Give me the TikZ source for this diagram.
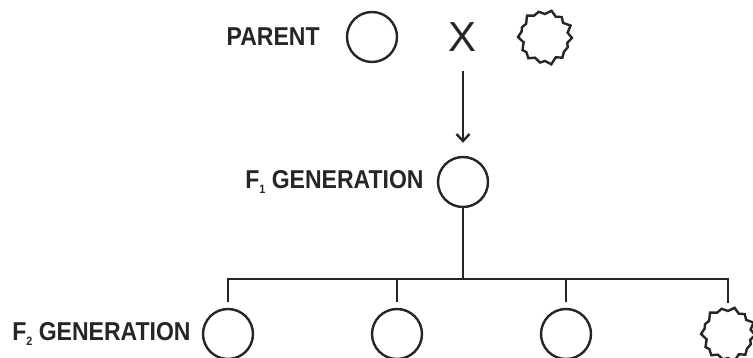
\documentclass[tikz,border=0pt]{standalone}
\usepackage{fontspec}
\setmainfont{Liberation Sans}
\usetikzlibrary{positioning, arrows.meta}
\definecolor{ink}{HTML}{262626}
\tikzstyle{seed} = [circle, minimum size=50pt, inner sep=0pt, draw=ink, line width=2.4pt]
\tikzstyle{wrinkle} = [circle, minimum size=50pt, inner sep=0pt]
\tikzstyle{gen} = [text=ink, font=\fontsize{23.5}{24}\selectfont\bfseries, inner sep=0pt]
\tikzstyle{cross} = [text=ink, font=\fontsize{42}{42}\selectfont, inner sep=0pt]
\tikzstyle{line} = [draw=ink, line width=2.4pt]
\tikzstyle{arrow} = [line, -{Straight Barb[length=7pt,width=13pt]}]
\newcommand{\wrinkled}[1]{\draw [line, line join=miter, shift={(#1.center)}]
  (2:27) -- (15:23) -- (24:25) -- (38:24) -- (50:27) -- (62:23) -- (77:28) -- (90:24)
  -- (101:26) -- (116:23) -- (128:27) -- (141:24) -- (150:26) -- (166:22) -- (180:27)
  -- (193:24) -- (203:25) -- (215:23) -- (230:28) -- (243:24) -- (256:26) -- (270:23)
  -- (284:27) -- (298:23) -- (310:26) -- (322:23) -- (336:28) -- (349:23) -- cycle;}
\newcommand{\sub}[1]{\raisebox{-4pt}{\fontsize{11}{11}\selectfont #1}}
\newcommand{\tall}[1]{\scalebox{0.98}[1.1]{#1}}

\begin{document}
\begin{tikzpicture}[x=1pt, y=-1pt]
		\useasboundingbox (0,0) rectangle (753,358);
		% Parents
		\node (pA) [seed] at (372,37) {};
		\node (cross) [cross, right of=pA, node distance=91pt] {X};
		\node (pB) [wrinkle, right of=cross, node distance=82pt] {};
		\node (parent) [gen, left=26pt of pA] {\tall{PARENT}};
		% First generation
		\node (f1) [seed, below of=cross, node distance=145pt] {};
		\node (f1lbl) [gen, left=13pt of f1] {\tall{F\sub{1} GENERATION}};
		% Second generation
		\node (f2a) [seed] at (228,334) {};
		\node (f2b) [seed, right of=f2a, node distance=169pt] {};
		\node (f2c) [seed, right of=f2b, node distance=169pt] {};
		\node (f2d) [wrinkle, right of=f2c, node distance=162pt] {};
		\node (f2lbl) [gen, left=11pt of f2a] {\tall{F\sub{2} GENERATION}};
		\coordinate (bus) at (463,279);

		\wrinkled{pB}
		\wrinkled{f2d}

		% Cross to F1
		\draw [arrow, shorten <=19pt, shorten >=13pt] (cross) -- (f1);
		% F1 to F2
		\draw [line] (f1) -- (bus);
		\draw [line, shorten <=6pt] (f2a) |- (bus);
		\draw [line, shorten <=6pt] (f2d) |- (bus);
		\draw [line, shorten <=6pt] (f2b) -- (f2b |- bus);
		\draw [line, shorten <=6pt] (f2c) -- (f2c |- bus);
	\end{tikzpicture}
\end{document}
